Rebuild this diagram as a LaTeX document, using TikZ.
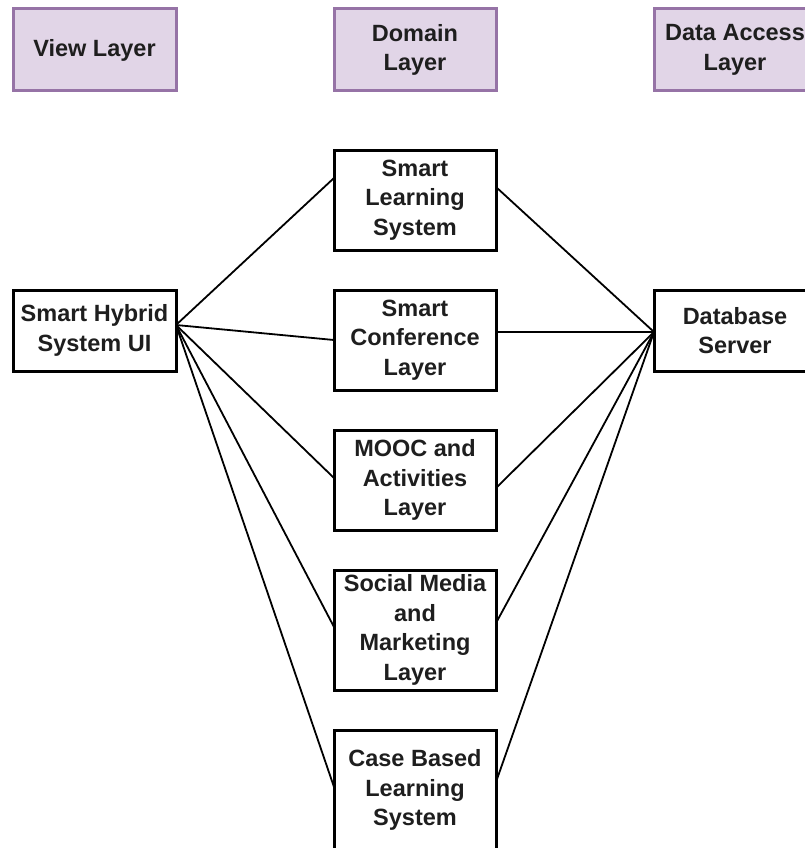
\documentclass[tikz,border=0pt]{standalone}
\usepackage{fontspec}
\setmainfont{Liberation Sans}
\definecolor{hdrfill}{HTML}{E1D5E7}
\definecolor{hdrdraw}{HTML}{9673A6}
\definecolor{txt}{HTML}{1E1E1E}
\begin{document}
\begin{tikzpicture}[x=1pt,y=-1pt,
  hdr/.style={draw=hdrdraw,fill=hdrfill,line width=3pt,outer sep=0pt,inner sep=0pt,
    minimum width=162pt,minimum height=82pt,align=center,text=txt,
    font=\bfseries\fontsize{23.5}{29.5}\selectfont},
  blk/.style={draw=black,fill=white,line width=3pt,outer sep=0pt,inner sep=0pt,
    minimum width=162pt,align=center,text=txt,
    font=\bfseries\fontsize{23.5}{29.5}\selectfont},
  link/.style={draw=black,line width=1.8pt}]
\useasboundingbox (0,0) rectangle (804,848);
\fill[white] (0,0) rectangle (804,848);
% headers
\node[hdr,minimum width=163pt] (view) at (94.5,50) {View Layer};
\node[hdr] (domain) at (415,50) {Domain\\Layer};
\node[hdr] (data) at (735,50) {Data Access\\Layer};
% boxes
\node[blk,minimum width=163pt,minimum height=81pt] (ui) at (94.5,330.5) {Smart Hybrid\\System UI};
\node[blk,minimum height=100pt] (sls) at (415,200) {Smart\\Learning\\System};
\node[blk,minimum height=100pt] (scl) at (415,340) {Smart\\Conference\\Layer};
\node[blk,minimum height=100pt] (mooc) at (415,480) {MOOC and\\Activities\\Layer};
\node[blk,minimum height=120pt] (smm) at (415,630) {Social Media\\and\\Marketing\\Layer};
\node[blk,minimum height=120pt] (cbl) at (415,790) {Case Based\\Learning\\System};
\node[blk,minimum height=81pt] (db) at (735,330.5) {Database\\Server};
% connection points
\coordinate (p) at ([yshift=5.5pt]ui.east);
\coordinate (q) at ([yshift=-1.5pt]db.west);
% left connectors
\draw[link] (p) -- ([yshift=22pt]sls.west);
\draw[link] (p) -- (scl.west);
\draw[link] (p) -- ([yshift=2pt]mooc.west);
\draw[link] (p) -- ([yshift=3pt]smm.west);
\draw[link] (p) -- ([yshift=3pt]cbl.west);
% right connectors
\draw[link] ([yshift=13pt]sls.east) -- (q);
\draw[link] ([yshift=8pt]scl.east) -- (q);
\draw[link] ([yshift=-8pt]mooc.east) -- (q);
\draw[link] ([yshift=7pt]smm.east) -- (q);
\draw[link] ([yshift=8pt]cbl.east) -- (q);
\end{tikzpicture}
\end{document}
